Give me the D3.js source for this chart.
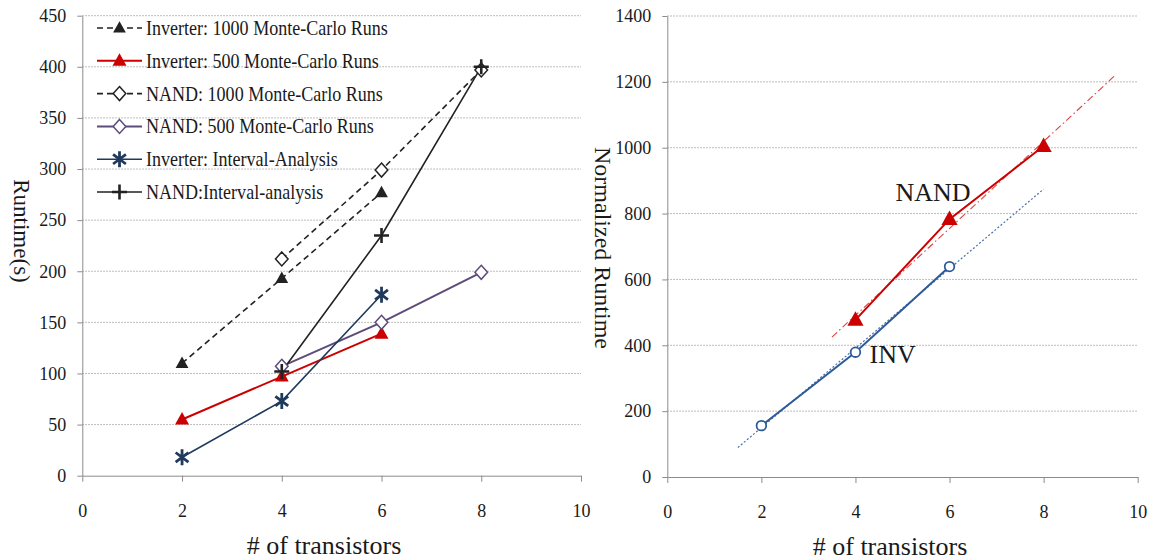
<!DOCTYPE html>
<html>
<head>
<meta charset="utf-8">
<script src="https://cdn.jsdelivr.net/npm/d3@7"></script>
<style>
  html, body { margin: 0; padding: 0; background: #fff; }
  svg { display: block; }
  svg, svg text { font-family: "Liberation Serif", "Times New Roman", serif; }
  text { fill: #1a1a1a; }
</style>
</head>
<body>
<svg id="chart" width="1151" height="560" font-family="Liberation Serif, Times New Roman, serif"></svg>
<script>
// ---- Data ----
const xTicks = [0, 2, 4, 6, 8, 10];
const runtimeTicks = [0, 50, 100, 150, 200, 250, 300, 350, 400, 450];
const normTicks = [0, 200, 400, 600, 800, 1000, 1200, 1400];

const invTransistors = [2, 4, 6];
const nandTransistors = [4, 6, 8];

// Runtime in seconds
const invMC1000 = [110, 193, 277];
const invMC500 = [55, 97, 139];
const nandMC1000 = [212, 299, 397];
const nandMC500 = [107, 150, 199];
const invInterval = [18, 73, 177];
const nandInterval = [102, 235, 400];

// Normalized runtime
const normInv = [156, 379, 639];
const normNand = [477, 783, 1005];
// x extent of each linear trendline
const invTrendSpan = [1.5, 8];
const nandTrendSpan = [3.5, 9.5];

const legendLabels = [
  "Inverter: 1000 Monte-Carlo Runs",
  "Inverter: 500 Monte-Carlo Runs",
  "NAND: 1000 Monte-Carlo Runs",
  "NAND: 500 Monte-Carlo Runs",
  "Inverter: Interval-Analysis",
  "NAND:Interval-analysis"
];

// ---- Styles ----
const SERIF = "Liberation Serif, Times New Roman, serif";
const BLACK = "#222222", RED = "#cc0000", PURPLE = "#5f4b7a", NAVY = "#1f3a5c", BLUE = "#2d5b98";
const AXIS = "#8c8c8c", GRID = "#a8a8a8";

const svg = d3.select("#chart");

// marker path builders
const mk = {
  triangle: s => `M0,${-s*0.62}L${s*0.58},${s*0.42}L${-s*0.58},${s*0.42}Z`,
  diamond: s => `M0,${-s}L${s*0.9},0L0,${s}L${-s*0.9},0Z`,
  plus: s => `M${-s},0H${s}M0,${-s}V${s}`,
  asterisk: s => `M0,${-s}V${s}M${-s*0.8},${-s*0.6}L${s*0.8},${s*0.6}M${-s*0.8},${s*0.6}L${s*0.8},${-s*0.6}`
};

const leftSeries = [
  { xs: invTransistors, ys: invMC1000, color: BLACK, dash: "6,4", width: 1.6, marker: "triangle", size: 11, fill: BLACK, mstroke: 0 },
  { xs: invTransistors, ys: invMC500, color: RED, dash: null, width: 2, marker: "triangle", size: 12, fill: RED, mstroke: 0 },
  { xs: nandTransistors, ys: nandMC1000, color: BLACK, dash: "6,4", width: 1.6, marker: "diamond", size: 7, fill: "#fff", mstroke: 1.5 },
  { xs: nandTransistors, ys: nandMC500, color: PURPLE, dash: null, width: 2, marker: "diamond", size: 7, fill: "#fff", mstroke: 1.5 },
  { xs: invTransistors, ys: invInterval, color: NAVY, dash: null, width: 1.6, marker: "asterisk", size: 8, fill: "none", mstroke: 2.8 },
  { xs: nandTransistors, ys: nandInterval, color: BLACK, dash: null, width: 1.6, marker: "plus", size: 7.5, fill: "none", mstroke: 2.6 }
];

function drawMarker(g, m, x, y) {
  g.append("path")
    .attr("transform", `translate(${x},${y})`)
    .attr("d", mk[m.marker](m.size))
    .attr("fill", m.fill)
    .attr("stroke", m.mstroke ? m.color : "none")
    .attr("stroke-width", m.mstroke || 0)
    .attr("stroke-linejoin", "miter");
}

function drawFrame(x, y, yTicks) {
  const g = svg.append("g");
  // horizontal dotted gridlines
  g.selectAll("line.grid").data(yTicks.filter(t => t > 0)).join("line")
    .attr("x1", x.range()[0]).attr("x2", x.range()[1])
    .attr("y1", d => y(d)).attr("y2", d => y(d))
    .attr("stroke", GRID).attr("stroke-width", 1).attr("stroke-dasharray", "1.5,1.5");

  const ya = g.append("g").attr("transform", `translate(${x.range()[0]},0)`)
    .call(d3.axisLeft(y).tickValues(yTicks).tickSize(5).tickSizeOuter(0).tickPadding(11).tickFormat(d3.format("d")));
  const xa = g.append("g").attr("transform", `translate(0,${y.range()[0]})`)
    .call(d3.axisBottom(x).tickValues(xTicks).tickSize(6).tickSizeOuter(0).tickFormat(d3.format("d")));
  [ya, xa].forEach(a => {
    a.attr("font-family", SERIF).attr("font-size", 18);
    a.select(".domain").attr("stroke", AXIS);
    a.selectAll(".tick line").attr("stroke", AXIS);
    a.selectAll("text").attr("font-family", SERIF).attr("font-size", 18).attr("fill", "#1a1a1a");
  });
  xa.selectAll("text").attr("y", 41).attr("dy", 0);
  return g;
}

// ---- Left chart: runtime ----
const xL = d3.scaleLinear([0, 10], [82.3, 581]);
const yL = d3.scaleLinear([0, 450], [475.7, 15.7]);
drawFrame(xL, yL, runtimeTicks);

const lineGen = (x, y) => d3.line().x(d => x(d[0])).y(d => y(d[1]));
const gL = svg.append("g");
leftSeries.forEach(s => {
  const pts = s.xs.map((v, i) => [v, s.ys[i]]);
  gL.append("path").attr("d", lineGen(xL, yL)(pts))
    .attr("fill", "none").attr("stroke", s.color).attr("stroke-width", s.width)
    .attr("stroke-dasharray", s.dash);
});
leftSeries.forEach(s => {
  s.xs.forEach((v, i) => drawMarker(gL, s, xL(v), yL(s.ys[i])));
});

// legend
const leg = svg.append("g");
legendLabels.forEach((label, i) => {
  const s = leftSeries[i];
  const cy = 28 + i * 32.8;
  leg.append("line").attr("x1", 97).attr("x2", 142).attr("y1", cy).attr("y2", cy)
    .attr("stroke", s.color).attr("stroke-width", s.width).attr("stroke-dasharray", s.dash);
  drawMarker(leg, s, 119.5, cy);
  leg.append("text")
    .attr("transform", `translate(146,${cy + 7}) scale(0.88,1)`)
    .attr("font-family", SERIF)
    .attr("font-size", 20.5)
    .text(label);
});

svg.append("text")
  .attr("transform", "translate(14,231) rotate(90)")
  .attr("text-anchor", "middle").attr("font-size", 23).attr("font-family", SERIF)
  .text("Runtime(s)");
svg.append("text")
  .attr("x", 324).attr("y", 554).attr("text-anchor", "middle").attr("font-size", 26).attr("font-family", SERIF)
  .text("# of transistors");

// ---- Right chart: normalized runtime ----
const xR = d3.scaleLinear([0, 10], [667.3, 1137.7]);
const yR = d3.scaleLinear([0, 1400], [477, 16]);
drawFrame(xR, yR, normTicks);

const gR = svg.append("g");
// least-squares linear trendline through a series
function trend(xs, ys, span) {
  const mx = d3.mean(xs), my = d3.mean(ys);
  const slope = d3.sum(xs, (v, i) => (v - mx) * (ys[i] - my)) / d3.sum(xs, v => (v - mx) ** 2);
  return span.map(v => [v, my + slope * (v - mx)]);
}
gR.append("path").attr("d", lineGen(xR, yR)(trend(nandTransistors, normNand, nandTrendSpan)))
  .attr("fill", "none").attr("stroke", "#e04040").attr("stroke-width", 1.1)
  .attr("stroke-dasharray", "7,3,1.5,3");
gR.append("path").attr("d", lineGen(xR, yR)(trend(invTransistors, normInv, invTrendSpan)))
  .attr("fill", "none").attr("stroke", "#4a6fa8").attr("stroke-width", 1.2)
  .attr("stroke-dasharray", "2,2");

gR.append("path").attr("d", lineGen(xR, yR)(invTransistors.map((v, i) => [v, normInv[i]])))
  .attr("fill", "none").attr("stroke", BLUE).attr("stroke-width", 2);
gR.append("path").attr("d", lineGen(xR, yR)(nandTransistors.map((v, i) => [v, normNand[i]])))
  .attr("fill", "none").attr("stroke", RED).attr("stroke-width", 2);

invTransistors.forEach((v, i) => {
  gR.append("circle").attr("cx", xR(v)).attr("cy", yR(normInv[i])).attr("r", 4.8)
    .attr("fill", "#fff").attr("stroke", BLUE).attr("stroke-width", 1.8);
});
nandTransistors.forEach((v, i) => {
  drawMarker(gR, { marker: "triangle", size: 14, fill: RED, color: RED, mstroke: 0 }, xR(v), yR(normNand[i]));
});

gR.append("text").attr("x", xR(5.65)).attr("y", yR(837)).attr("text-anchor", "middle")
  .attr("font-size", 26).attr("font-family", SERIF).text("NAND");
gR.append("text").attr("x", xR(4.3)).attr("y", yR(345)).attr("font-size", 26).attr("font-family", SERIF).text("INV");

svg.append("text")
  .attr("transform", "translate(595,248) rotate(90)")
  .attr("text-anchor", "middle").attr("font-size", 24).attr("font-family", SERIF)
  .text("Normalized Runtime");
svg.append("text")
  .attr("x", 890).attr("y", 555).attr("text-anchor", "middle").attr("font-size", 26).attr("font-family", SERIF)
  .text("# of transistors");
</script>
</body>
</html>
